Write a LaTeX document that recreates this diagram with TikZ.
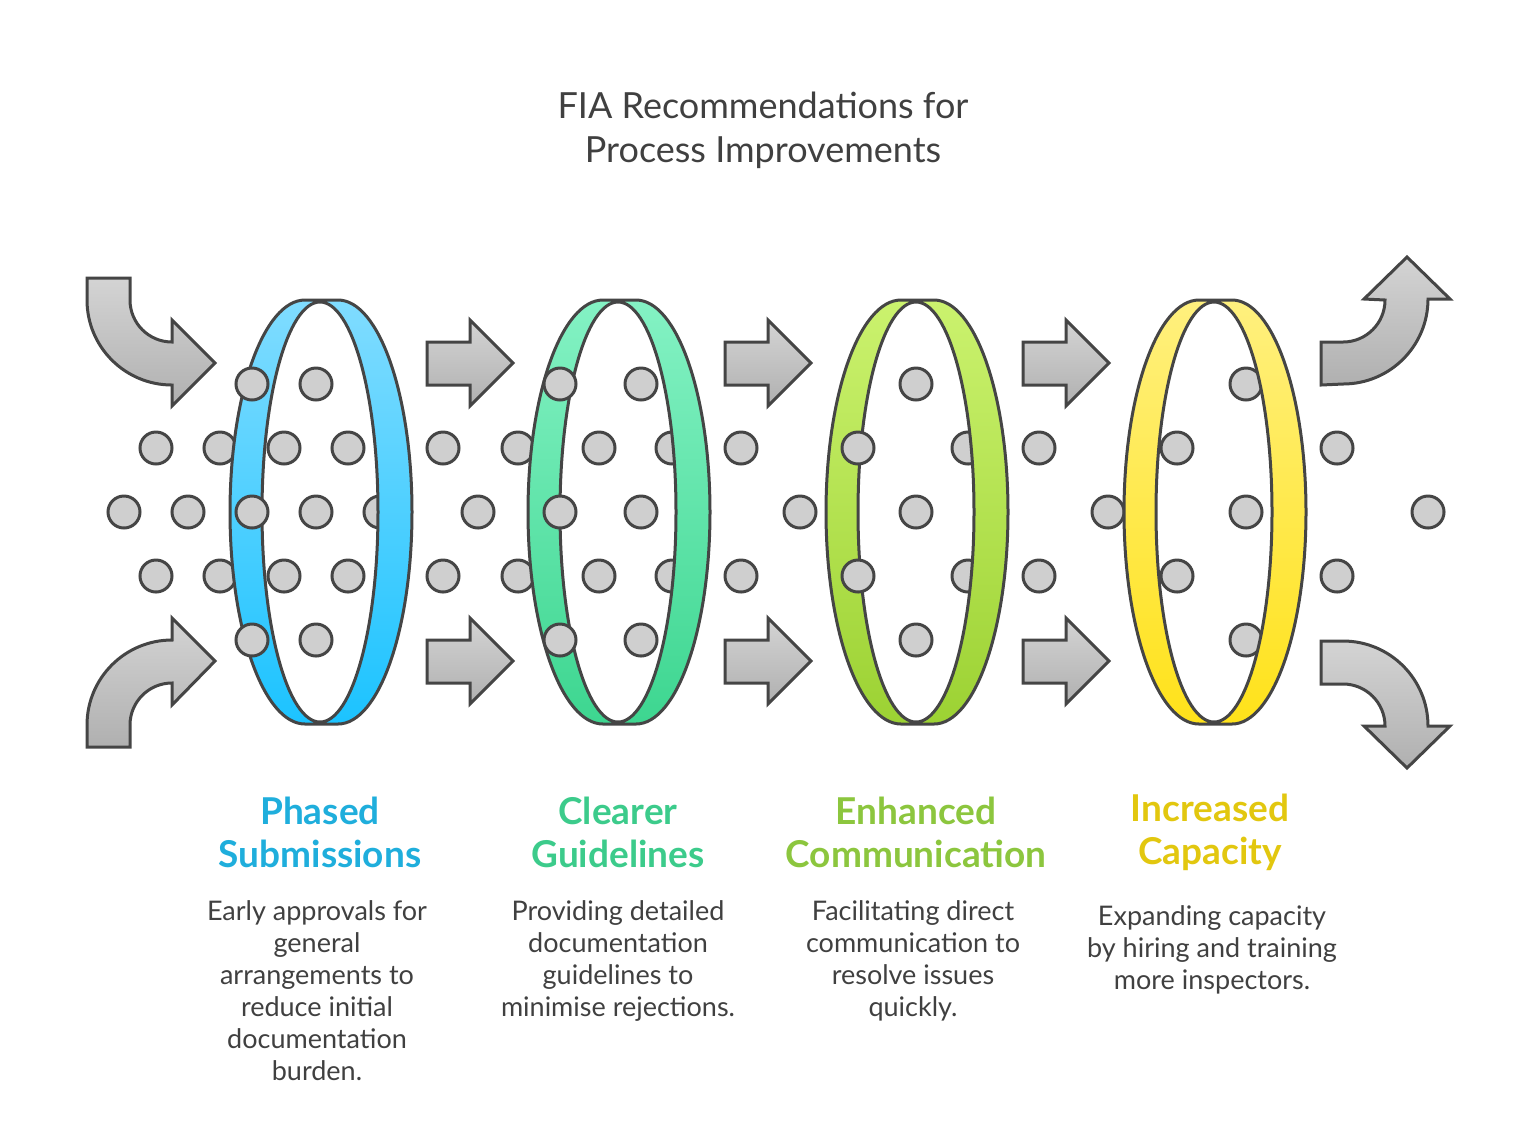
\documentclass[tikz,border=0pt]{standalone}
\usepackage{fontspec}
\setmainfont{Lato}
\definecolor{edge}{HTML}{454545}
\definecolor{dotgray}{HTML}{CFCFCF}
\definecolor{blueA}{HTML}{80DCFF}\definecolor{blueB}{HTML}{1CC3FF}
\definecolor{greenA}{HTML}{84F2C4}\definecolor{greenB}{HTML}{3DD690}
\definecolor{limeA}{HTML}{CBF26E}\definecolor{limeB}{HTML}{9CD233}
\definecolor{yellowA}{HTML}{FFF07E}\definecolor{yellowB}{HTML}{FFE21A}
\definecolor{blueT}{HTML}{1FAEDC}\definecolor{greenT}{HTML}{3CCB8B}
\definecolor{limeT}{HTML}{8CC63E}\definecolor{yellowT}{HTML}{E2C70F}

\tikzstyle{dot}=[circle,draw=edge,line width=1.5pt,fill=dotgray,minimum size=16pt,inner sep=0pt]
\tikzstyle{arr}=[draw=edge,line width=1.5pt,top color=dotgray!90,bottom color=dotgray!85!black,line join=miter]
\tikzstyle{head}=[font=\bfseries\fontsize{18.5}{21.5}\selectfont,align=center]
\tikzstyle{body}=[text=black!75,font=\fontsize{13.5}{16}\selectfont,align=center,anchor=north]

% one hoop: centre x, top colour, bottom colour
\newcommand\hoop[3]{
  \draw[line width=1.5pt,draw=edge,even odd rule,top color=#2,bottom color=#3]
    (#1-15,300) arc(-90:-270:75 and 212) -- (#1+18,724) arc(90:-90:74 and 212) -- cycle
    (#1,512) ellipse (58 and 210);
}
\newcommand\fwd[2]{
  \draw[arr] (#1,#2) -- (#1+43,#2) -- (#1+43,#2-22) -- (#1+86,#2+21) -- (#1+43,#2+64)
    -- (#1+43,#2+43) -- (#1,#2+43) -- cycle;
}

\begin{document}
\begin{tikzpicture}[x=0.5pt,y=-0.5pt]
  \useasboundingbox (0,0) rectangle (1536,1132);

  \node[text=black!75,font=\fontsize{18}{22}\selectfont,align=center] (title) at (763,130)
    {FIA Recommendations for\\Process Improvements};

  % dots behind the hoops
  \foreach \x/\y in {156/448,220/448,284/448,348/448,124/512,188/512,316/512,380/512,
      156/576,220/576,284/576,348/576,316/384,316/640,
      443/448,518/448,478/512,443/576,518/576,
      599/448,672/448,641/384,641/512,641/640,599/576,672/576,
      741/448,800/512,741/576,
      916/384,968/448,916/512,968/576,916/640,
      1039/448,1108/512,1039/576,
      1246/384,1246/512,1246/640,
      1337/448,1428/512,1337/576}
    \node[dot] at (\x,\y) {};

  \hoop{320}{blueA}{blueB}
  \hoop{618}{greenA}{greenB}
  \hoop{916}{limeA}{limeB}
  \hoop{1214}{yellowA}{yellowB}

  % dots in front of the hoops
  \foreach \x/\y in {252/384,252/512,252/640,560/384,560/512,560/640,
      858/448,858/576,1177/448,1177/576}
    \node[dot] at (\x,\y) {};

  % arrows
  \draw[arr] (87,278) -- (130,278) -- (130,300) arc(180:90:42) -- (172,320) -- (215,363)
    -- (172,406) -- (172,385) arc(90:180:85) -- cycle;
  \draw[arr] (87,747) -- (130,747) -- (130,725) arc(180:270:42) -- (172,705) -- (215,661)
    -- (172,618) -- (172,640) arc(270:180:85) -- cycle;
  \fwd{427}{342}\fwd{427}{640}
  \fwd{725}{342}\fwd{725}{640}
  \fwd{1023}{342}\fwd{1023}{640}
  \draw[arr] (1321,342) -- (1343,342) arc(90:0:42) -- (1364,299) -- (1407,257) -- (1450,299)
    -- (1428,299) arc(0:90:85) -- (1321,385) -- cycle;
  \draw[arr] (1321,641) -- (1343,641) arc(-90:0:85) -- (1450,726) -- (1407,768) -- (1364,726)
    -- (1385,726) arc(0:-90:42) -- (1321,684) -- cycle;

  % labels
  \node[head,text=blueT] (phased) at (320,832) {Phased\\Submissions};
  \node[head,text=greenT] (clearer) at (618,832) {Clearer\\Guidelines};
  \node[head,text=limeT] (enhanced) at (916,832) {Enhanced\\Communication};
  \node[head,text=yellowT] (increased) at (1210,832) {Increased\\Capacity};

  \node[body] (phasedtxt) at (317,894) {Early approvals for\\general\\arrangements to\\reduce initial\\documentation\\burden.};
  \node[body] (clearertxt) at (618,894) {Providing detailed\\documentation\\guidelines to\\minimise rejections.};
  \node[body] (enhancedtxt) at (913,894) {Facilitating direct\\communication to\\resolve issues\\quickly.};
  \node[body] (increasedtxt) at (1212,899) {Expanding capacity\\by hiring and training\\more inspectors.};
\end{tikzpicture}
\end{document}
